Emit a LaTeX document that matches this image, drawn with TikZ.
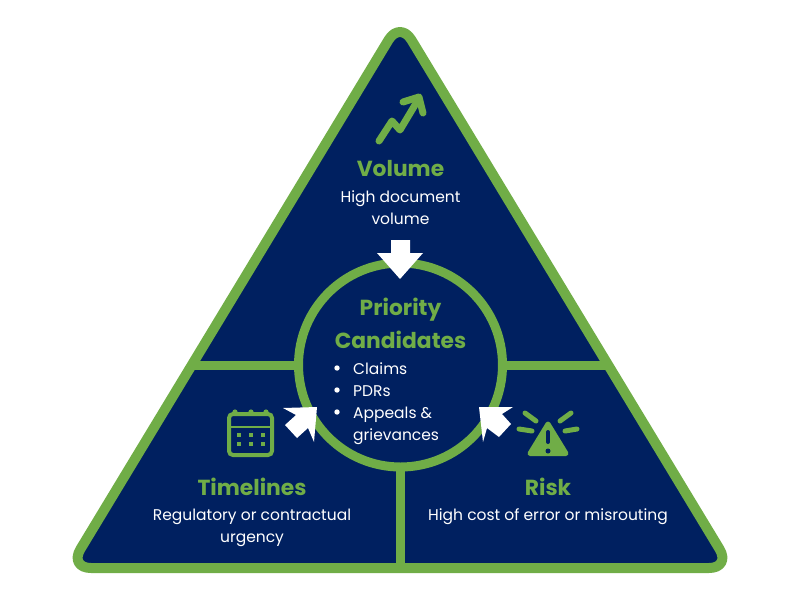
\documentclass[tikz,border=0pt]{standalone}
\usepackage{fontspec}
\setmainfont{Poppins}
\definecolor{navy}{HTML}{002060}
\definecolor{leaf}{HTML}{70AD47}
\tikzset{
  head/.style={text=leaf,font=\fontsize{21.8}{24}\selectfont\bfseries,inner sep=0pt,anchor=base},
  body/.style={text=white,font=\fontsize{15.5}{18}\selectfont,inner sep=0pt,anchor=base},
  item/.style={text=white,font=\fontsize{15.5}{18}\selectfont,inner sep=0pt,anchor=base west},
  blockarrow/.style={fill=white,draw=none},
  bar/.style={draw=leaf,line width=9pt},
  icon/.style={draw=leaf,line width=4pt,line cap=round,line join=round},
  ray/.style={draw=leaf,line width=5pt,line cap=round}
}
\begin{document}
\begin{tikzpicture}[x=1pt,y=-1pt]
\useasboundingbox (0,0) rectangle (800,600);
\coordinate (apex) at (400,21);
\coordinate (bl) at (69,568);
\coordinate (br) at (731,568);
\coordinate (c) at (400.5,365);
\coordinate (lj) at (192,365);
\coordinate (rj) at (608,365);
\coordinate (bj) at (400.5,567);
\fill[navy,rounded corners=22pt] (apex) -- (br) -- (bl) -- cycle;
\draw[bar] (lj) -- (c) -- (rj);
\draw[bar] (c) -- (bj);
\draw[bar,line width=10pt,line join=round,rounded corners=22pt] (apex) -- (br) -- (bl) -- cycle;
\node[circle,fill=navy,draw=leaf,line width=9pt,minimum size=204pt,inner sep=0pt] (ring) at (c) {};
% arrows
\fill[blockarrow] (391,240) -- (410,240) -- (410,253) -- (423,253) -- (400,279) -- (377,253) -- (391,253) -- cycle;
\fill[blockarrow] (317,407) -- (314,442) -- (308,428) -- (297,438) -- (285,425) -- (296,415) -- (283,408) -- cycle;
\fill[blockarrow] (479,407) -- (513,407) -- (502,414) -- (511,424) -- (499,437) -- (487,428) -- (483,442) -- cycle;
% volume icon
\draw[icon,line width=7pt] (379,141) -- (392,121) -- (400,130) -- (418,100);
\draw[icon,line width=7pt] (403,102) -- (419,97) -- (423,113);
% calendar icon
\draw[draw=leaf,line width=4pt,rounded corners=4pt] (229,414) rectangle (272,455);
\draw[draw=leaf,line width=2.5pt] (229,427) -- (272,427);
\foreach \x in {235,251,266} \fill[leaf] (\x,412) circle (2.6pt);
\foreach \x in {239,251,263} \foreach \y in {435,444} \fill[leaf] (\x-2.2,\y-2.2) rectangle (\x+2.2,\y+2.2);
% warning icon
\fill[leaf,draw=leaf,line width=5pt,line join=round] (548,424) -- (566,453.5) -- (530,453.5) -- cycle;
\draw[draw=navy,line width=4pt,line cap=round] (548,432) -- (548,442);
\fill[navy] (548,451) circle (2.5pt);
\draw[ray] (525,413) -- (536,421);
\draw[ray] (571,413) -- (560,421);
\draw[ray] (519,429) -- (532,431);
\draw[ray] (577,429) -- (565,431);
% text
\node[head] (vol) at (400.5,176) {Volume};
\node[body] (vol1) at (400.5,202) {High document};
\node[body] (vol2) at (400.5,224) {volume};
\node[head] (pri1) at (400.5,315) {Priority};
\node[head] (pri2) at (400.5,348) {Candidates};
\foreach \n/\y/\t in {a/374/Claims,b/396/PDRs,c/418/Appeals \&,d/440/grievances} \node[item] (it\n) at (353,\y) {\t};
\foreach \y in {368,390,412} \fill[white] (337,\y) circle (2.7pt);
\node[head] (tim) at (252,495) {Timelines};
\node[body] (tim1) at (252,520) {Regulatory or contractual};
\node[body] (tim2) at (252,542) {urgency};
\node[head] (risk) at (548,495) {Risk};
\node[body] (risk1) at (548,520) {High cost of error or misrouting};
\end{tikzpicture}
\end{document}
